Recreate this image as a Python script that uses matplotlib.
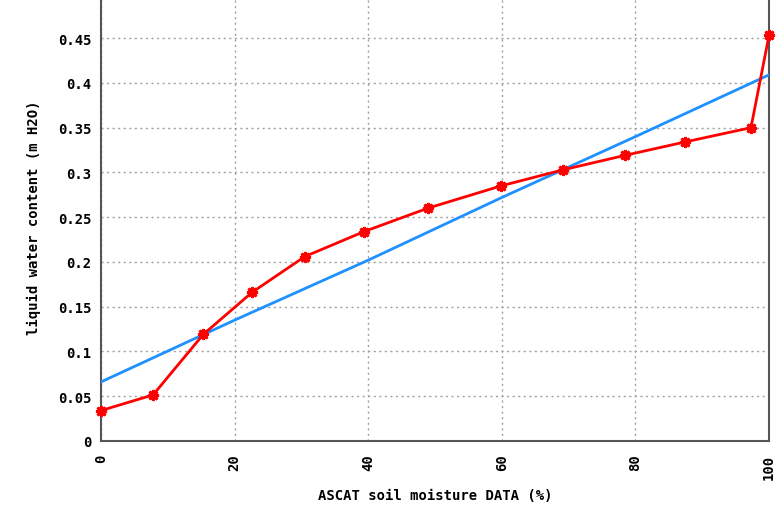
import matplotlib
matplotlib.use("Agg")
import matplotlib.pyplot as plt

# red curve: observed points
red_x = [0, 7.8, 15.3, 22.6, 30.5, 39.4, 48.9, 59.9, 69.2, 78.4, 87.4, 97.3, 100]
red_y = [0.034, 0.0515, 0.119, 0.166, 0.206, 0.234, 0.260, 0.285, 0.303, 0.319,
         0.334, 0.350, 0.453]

# blue curve: fit
blue_x = [0, 20, 40, 60, 80, 100]
blue_y = [0.066, 0.135, 0.202, 0.272, 0.340, 0.409]

x_ticks = [0, 20, 40, 60, 80, 100]
y_ticks = [0, 0.05, 0.1, 0.15, 0.2, 0.25, 0.3, 0.35, 0.4, 0.45, 0.5]
y_labels = ["0", "0.05", "0.1", "0.15", "0.2", "0.25", "0.3", "0.35", "0.4", "0.45", "0.5"]

plt.rcParams["font.family"] = "DejaVu Sans Mono"
plt.rcParams["font.weight"] = "bold"

fig = plt.figure(figsize=(7.78, 5.06), dpi=100)
ax = fig.add_axes([101 / 778, 64 / 506, 668 / 778, 447.6 / 506])

ax.plot(blue_x, blue_y, color="#1E90FF", lw=2, zorder=3)
ax.plot(red_x, red_y, color="#FF0000", lw=2, marker=(8, 2, 0), ms=8, mew=2,
        zorder=4, clip_on=False)

ax.set_xlim(0, 100)
ax.set_ylim(0, 0.5)
ax.set_xticks(x_ticks)
ax.set_xticklabels([str(v) for v in x_ticks], rotation=90, fontsize=10, fontweight="bold")
ax.set_yticks(y_ticks)
ax.set_yticklabels(y_labels, fontsize=10, fontweight="bold")
ax.tick_params(length=0, pad=7)
ax.tick_params(axis="x", pad=9)

ax.grid(True, color="#a0a0a0", lw=1, linestyle=(0, (1.5, 2.5)))
ax.set_axisbelow(True)
for side in ["left", "bottom", "right", "top"]:
    ax.spines[side].set_color("#555555")
    ax.spines[side].set_linewidth(1.5)

ax.set_xlabel("ASCAT soil moisture DATA (%)", fontsize=10, fontweight="bold", labelpad=7)
ax.set_ylabel("liquid water content (m H2O)", fontsize=10, fontweight="bold", labelpad=12)

fig.savefig("out.png", dpi=100)
